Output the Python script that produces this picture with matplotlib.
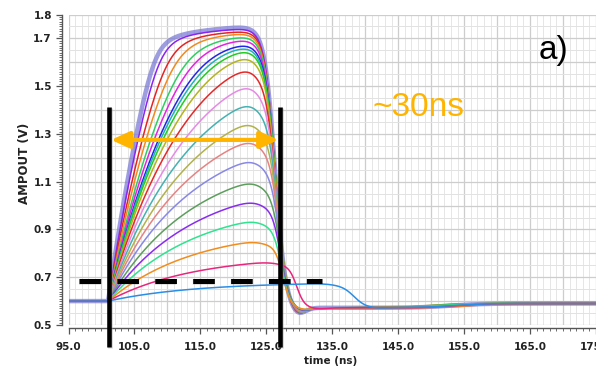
import numpy as np
import matplotlib
matplotlib.use("Agg")
import matplotlib.pyplot as plt
from matplotlib.patches import FancyArrowPatch

# --- values ------------------------------------------------------------------
# peak output of each simulated trace, lowest to highest (V)
peak_v = [0.672, 0.760, 0.845, 0.930, 1.010, 1.090, 1.180, 1.260, 1.335, 1.414,
          1.489, 1.559, 1.611, 1.640, 1.655, 1.667, 1.688, 1.702, 1.716, 1.726,
          1.737, 1.745]
# time where each trace is half way down its falling edge (ns)
fall_t = [138.3, 129.6, 127.5, 127.3, 127.2, 127.1, 127.0, 126.9, 126.8, 126.7,
          126.6, 126.5, 126.5, 126.45, 126.4, 126.4, 126.35, 126.35, 126.3, 126.3,
          126.3, 126.3]
# width of the falling edge (ns)
fall_w = [0.9, 0.6, 0.6, 0.65, 0.65, 0.7, 0.7, 0.7, 0.72, 0.72,
          0.74, 0.76, 0.78, 0.78, 0.78, 0.78, 0.78, 0.78, 0.78, 0.78,
          0.78, 0.78]
# time where each trace climbs out of the undershoot (ns)
recover_t = [153, 154, 156, 151, 155, 150, 152, 154, 149, 153, 156, 151,
             155, 150, 152, 154, 153, 151, 155, 152, 154, 153]
trace_colors = ["#2a8de6", "#e8267c", "#f28c1c", "#2fe38f", "#8a2cf0", "#5c9e5c",
                "#8888e6", "#e88282", "#b2b24a", "#44b2b2", "#e68ae6", "#e62828",
                "#b4b41e", "#22cc22", "#22b4b4", "#2424e8", "#e424e4", "#2fcf5f",
                "#f08a20", "#e42424", "#8a24f0", "#7c7cd6"]

x_ticks = [95, 105, 115, 125, 135, 145, 155, 165, 175]
x_tick_labels = ["95.0", "105.0", "115.0", "125.0", "135.0", "145.0", "155.0",
                 "165.0", "175.0"]
y_ticks = [0.5, 0.7, 0.9, 1.1, 1.3, 1.5, 1.7, 1.8]
y_tick_labels = ["0.5", "0.7", "0.9", "1.1", "1.3", "1.5", "1.7", "1.8"]

marker_t = [101.1, 127.05]      # black cursor bars
marker_v = [0.409, 1.414]
thresh_v = 0.686                # dashed threshold
thresh_t = [96.6, 133.5]
span_v = 1.275                  # orange width arrow
span_t = [101.45, 126.85]

# --- waveform model -----------------------------------------------------------
T0, TAU, V0 = 101.0, 13.0, 0.6
KNEE, P, COMP = 1.10, 10, 0.05


def sig(z):
    return 1.0 / (1.0 + np.exp(np.clip(z, -60, 60)))


def sat(x):
    # sharp output-swing knee plus a slow linear compression above it
    hard = x / (1.0 + (x / KNEE) ** P) ** (1.0 / P)
    return hard + COMP * 0.1 * np.logaddexp(0.0, (x - 1.0) / 0.1)


def trace(t, gain, tf, w, trec, dip):
    r = np.where(t > T0, 1.0 - np.exp(-(t - T0) / TAU), 0.0)
    droop = 1.0 - 0.12 * sig(-(t - (tf - 3.0)) / 1.0)
    fall = sig((t - tf) / w)
    level = 0.01 + 0.018 * sig((t - trec) / 2.5)
    under = (level + dip * np.exp(-((t - tf - 3.4) / 1.6) ** 2)) * (1.0 - fall)
    return V0 + (sat(gain * r * droop) - sat(0.0)) * fall - under


def fit_gain(t, pk, tf, w, trec, dip):
    lo, hi = 0.0, 20.0
    for _ in range(50):
        mid = 0.5 * (lo + hi)
        if trace(t, mid, tf, w, trec, dip).max() < pk:
            lo = mid
        else:
            hi = mid
    return 0.5 * (lo + hi)


t = np.linspace(95, 175, 4000)

fig = plt.figure(figsize=(5.96, 3.66), dpi=100)
ax = fig.add_axes([68.5 / 596, 1 - 325 / 366, (596 - 68.5) / 596, (325 - 14.5) / 366])
ax.set_xlim(95, 95 + (596 - 68.5) / 6.63)
ax.set_ylim(0.5, 1.8)

# grid
for gx in np.arange(95, 176, 1):
    major = abs(gx % 5) < 1e-9
    ax.axvline(gx, color="#cdcdcd" if major else "#e6e6e6", lw=0.9 if major else 0.7, zorder=0)
for gy in np.arange(0.5, 1.801, 0.05):
    major = abs(round(gy * 10) - gy * 10) < 1e-6
    ax.axhline(gy, color="#cdcdcd" if major else "#e2e2e2", lw=0.9 if major else 0.7, zorder=0)

n = len(peak_v)
for i in reversed(range(n)):
    dip = 0.032 * (peak_v[i] - V0) / 1.145
    g = fit_gain(t, peak_v[i], fall_t[i], fall_w[i], recover_t[i], dip)
    v = trace(t, g, fall_t[i], fall_w[i], recover_t[i], dip)
    if i == n - 1:
        ax.plot(t, v, color=trace_colors[i], lw=3.2, alpha=0.75, zorder=2,
                solid_capstyle="round")
    else:
        ax.plot(t, v, color=trace_colors[i], lw=1.1, zorder=3)

# annotations
for mt in marker_t:
    ax.plot([mt + 0.15, mt + 0.15], [marker_v[0] - 0.005, marker_v[1] - 0.005],
            color="#999999", lw=3.6, alpha=0.35, clip_on=False, zorder=5,
            solid_capstyle="butt")
    ax.plot([mt, mt], marker_v, color="black", lw=3.3, clip_on=False, zorder=6,
            solid_capstyle="butt")
ax.plot(thresh_t, [thresh_v - 0.004, thresh_v - 0.004], color="#999999", lw=4.2,
        alpha=0.3, zorder=5, dashes=(3.7, 2.8), dash_capstyle="butt")
ax.plot(thresh_t, [thresh_v, thresh_v], color="black", lw=3.6, zorder=6,
        dashes=(4.33, 3.25), dash_capstyle="butt")
arrow = FancyArrowPatch((span_t[0], span_v), (span_t[1], span_v),
                        arrowstyle="<|-|>,head_length=1.1,head_width=0.5",
                        mutation_scale=10, color="#ffb400", lw=3,
                        shrinkA=0, shrinkB=0, zorder=7)
ax.add_patch(arrow)

fig.text(418 / 596, 1 - 108 / 366, "~30ns", color="#ffb400", fontsize=24,
         family="Liberation Sans", ha="center", va="center")
fig.text(553 / 596, 1 - 50 / 366, "a)", color="black", fontsize=24,
         family="Liberation Sans", ha="center", va="center")

# axes styling
for side in ("top", "right"):
    ax.spines[side].set_visible(False)
ax.spines["left"].set_position(("outward", 5))
ax.spines["bottom"].set_position(("outward", 2))
for side in ("left", "bottom"):
    ax.spines[side].set_color("#555555")
    ax.spines[side].set_linewidth(1.0)

ax.set_xticks(x_ticks)
ax.set_xticklabels(x_tick_labels)
ax.set_xticks(np.arange(95, 176, 1), minor=True)
ax.set_yticks(y_ticks)
ax.set_yticklabels(y_tick_labels)
ax.set_yticks(np.arange(0.5, 1.8001, 0.01), minor=True)
ax.tick_params(axis="both", which="major", length=4, width=0.9, color="#555555",
               labelsize=7.5, labelcolor="#222222")
ax.tick_params(axis="both", which="minor", length=2, width=0.6, color="#555555")
ax.tick_params(axis="x", which="major", pad=6)
ax.tick_params(axis="y", which="major", pad=3)
for lab in ax.get_xticklabels() + ax.get_yticklabels():
    lab.set_fontweight("bold")

fig.text(25 / 596, 1 - 163 / 366, "AMPOUT (V)", rotation=90, fontsize=8.5,
         fontweight="bold", color="#222222", ha="center", va="center")
fig.text(331 / 596, 1 - 361 / 366, "time (ns)", fontsize=7.5, fontweight="bold",
         color="#222222", ha="center", va="center")

fig.savefig("out.png", dpi=100)
